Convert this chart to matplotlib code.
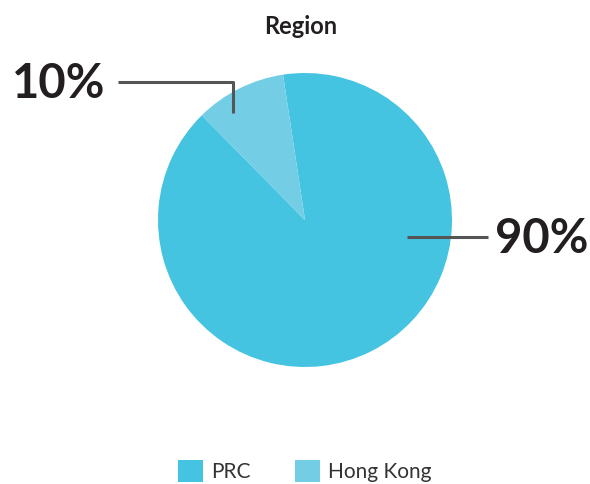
import matplotlib.pyplot as plt

plt.rcParams['font.family'] = ['Lato', 'DejaVu Sans']

# Data
regions = ["PRC", "Hong Kong"]
shares = [90, 10]
colors = ["#44C4E0", "#73CEE5"]
pct_labels = ["90%", "10%"]

fig = plt.figure(figsize=(5.9, 4.84), dpi=100)
# axes in pixel units (y measured upward)
ax = fig.add_axes([0, 0, 1, 1])

wedges, _ = ax.pie(shares, colors=colors, startangle=134.6, counterclock=True,
                   center=(305, 264), radius=147, frame=True,
                   wedgeprops=dict(linewidth=0))
ax.set_xlim(0, 590)
ax.set_ylim(0, 484)
ax.set_aspect("equal")
ax.axis("off")

line_kw = dict(color="#555555", linewidth=2.2, solid_capstyle="butt")

# leader 10%
ax.plot([118, 233, 233], [484 - 82, 484 - 82, 484 - 113], **line_kw)
ax.text(12, 484 - 84, pct_labels[1], fontsize=34, fontweight="bold",
        color="#231F20", ha="left", va="center")

# leader 90%
ax.plot([407, 488], [484 - 237, 484 - 237], **line_kw)
ax.text(495, 484 - 239, pct_labels[0], fontsize=34, fontweight="bold",
        color="#231F20", ha="left", va="center")

ax.text(301, 484 - 27, "Region", fontsize=17, fontweight="bold",
        color="#231F20", ha="center", va="center")

fig.legend(wedges, regions, loc="center left", bbox_to_anchor=(178 / 590, 13 / 484),
           ncol=2, frameon=False, fontsize=15, handlelength=1.2, handleheight=1.2,
           handletextpad=0.4, columnspacing=2.1, borderpad=0, borderaxespad=0,
           labelcolor="#333333")

fig.savefig("out.png", dpi=100)
